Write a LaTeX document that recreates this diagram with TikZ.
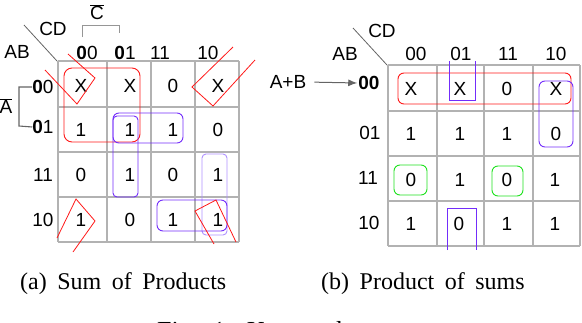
\documentclass[tikz,border=0pt]{standalone}
\usepackage{fontspec}
\setmainfont{Liberation Sans}
\newfontfamily\capfont{Liberation Serif}
\definecolor{kmred}{RGB}{255,25,25}
\definecolor{kmpurple}{RGB}{115,45,250}
\definecolor{kmlilac}{RGB}{175,145,255}
\definecolor{kmgreen}{RGB}{30,225,30}
\definecolor{kmgrid}{RGB}{178,178,178}
\definecolor{kmline}{RGB}{100,100,100}
\definecolor{kmlight}{RGB}{150,150,150}
\usetikzlibrary{arrows.meta,positioning}
\newcommand\kmcapfont[2]{\capfont\fontsize{#1}{30}\selectfont\spaceskip=#2pt\relax}

\begin{document}
\begin{tikzpicture}[x=1pt,y=-1pt,
  kmtext/.style={inner sep=0pt,font=\fontsize{19}{21}\selectfont},
  kmgridline/.style={draw=kmgrid,line width=1.2pt},
  kmgroup/.style={rounded corners=6pt,line width=0.9pt},
  kmmark/.style={draw=kmred,line width=0.8pt},
  kmbracket/.style={draw=kmline,line width=1.1pt},
  kmcap/.style={inner sep=0pt,anchor=base west,font=\kmcapfont{24}{10.5}}
]
  \useasboundingbox (0,0) rectangle (582,322);

  % Left map: grid
  \foreach \x in {58,107,151,195,239} \draw[kmgridline] (\x,61) -- (\x,242);
  \foreach \y in {61,107,152,197,242} \draw[kmgridline] (58,\y) -- (239,\y);
  \draw[draw=kmline,line width=0.8pt] (24,25) -- (57,61);
  \node[kmtext] (lcd) at (53,29) {CD};
  \node[kmtext] (lab) at (17,52) {AB};
  \node[kmtext] (lcbar) at (97,12) {$\overline{\mbox{C}}$};
  \node[kmtext] (labar) at (6,106) {$\overline{\mbox{A}}$};
  % Left map: headers
  \node[kmtext] (lc1) at (87,53) {\textbf{0}0};
  \node[kmtext] (lc2) at (125,53) {\textbf{0}1};
  \node[kmtext] (lc3) at (160,53) {11};
  \node[kmtext] (lc4) at (208,53) {10};
  \node[kmtext] (lr1) at (43,87) {\textbf{0}0};
  \node[kmtext] (lr2) at (43,127) {\textbf{0}1};
  \node[kmtext] (lr3) at (43,175) {11};
  \node[kmtext] (lr4) at (43,220) {10};
  \draw[kmbracket,draw=kmlight,line width=1pt] (82,37) |- (119,25) -- (119,33);
  \draw[kmbracket] (lr1.west) -| (19,126) -- (lr2.west);
  % Left map: cells
  \foreach \v [count=\c] in {X,X,0,X} \node[kmtext] (l1\c) at ({\c==1?81:(\c==2?130:(\c==3?173:218))},86) {\v};
  \foreach \v [count=\c] in {1,1,1,0} \node[kmtext] (l2\c) at ({\c==1?81:(\c==2?130:(\c==3?173:218))},130) {\v};
  \foreach \v [count=\c] in {0,1,0,1} \node[kmtext] (l3\c) at ({\c==1?81:(\c==2?130:(\c==3?173:218))},175) {\v};
  \foreach \v [count=\c] in {1,0,1,1} \node[kmtext] (l4\c) at ({\c==1?81:(\c==2?130:(\c==3?173:218))},220) {\v};
  % Left map: groups
  \draw[kmgroup,draw=kmred,rounded corners=8pt] (64,68) rectangle (140,142);
  \draw[kmgroup,draw=kmpurple] (113,113) rectangle (183,143);
  \draw[kmgroup,draw=kmpurple,rounded corners=4pt] (113,116) rectangle (138,197);
  \draw[kmgroup,draw=kmlilac,rounded corners=4pt] (202,154) rectangle (227,235);
  \draw[kmgroup,draw=kmpurple] (157,200) rectangle (227,231);
  \draw[kmmark] (45,70) -- (77,104) -- (95,78) -- (68,54);
  \draw[kmmark] (233,47) -- (192,87) -- (213,106) -- (255,60);
  \draw[kmmark] (57,238) -- (76,199) -- (95,221) -- (73,252);
  \draw[kmmark] (214,244) -- (195,211) -- (216,200) -- (236,242);

  % Right map: grid
  \foreach \x in {388,437,484,533,580} \draw[kmgridline] (\x,65) -- (\x,246);
  \foreach \y in {65,111,156,201,246} \draw[kmgridline] (388,\y) -- (580,\y);
  \draw[draw=kmline,line width=0.8pt] (353,28) -- (387,65);
  \node[kmtext] (rcd) at (382,31) {CD};
  \node[kmtext] (rab) at (345,54) {AB};
  % Right map: headers
  \node[kmtext] (rc1) at (416,54) {00};
  \node[kmtext] (rc2) at (461,54) {01};
  \node[kmtext] (rc3) at (508,54) {11};
  \node[kmtext] (rc4) at (556,54) {10};
  \node[kmtext] (rr1) at (369,83) {\textbf{00}};
  \node[kmtext] (rr2) at (370,133) {01};
  \node[kmtext] (rr3) at (368,178) {11};
  \node[kmtext] (rr4) at (369,223) {10};
  \node[kmtext] (rsum) at (288,82) {A+B};
  \draw[draw=kmline,line width=1pt,-{Latex[length=9pt,width=7pt]},shorten <=8pt,shorten >=1pt] (rsum.east) -- (rr1.west);
  % Right map: cells
  \foreach \v [count=\c] in {X,X,0,X} \node[kmtext] (r1\c) at ({\c==1?411:(\c==2?460:(\c==3?507:556))},89) {\v};
  \foreach \v [count=\c] in {1,1,1,0} \node[kmtext] (r2\c) at ({\c==1?411:(\c==2?460:(\c==3?507:556))},134) {\v};
  \foreach \v [count=\c] in {0,1,0,1} \node[kmtext] (r3\c) at ({\c==1?411:(\c==2?460:(\c==3?507:555))},180) {\v};
  \foreach \v [count=\c] in {1,0,1,1} \node[kmtext] (r4\c) at ({\c==1?411:(\c==2?459:(\c==3?507:555))},224) {\v};
  % Right map: groups
  \draw[kmgroup,draw=kmred] (398,73) rectangle (571,104);
  \draw[line width=0.9pt,draw=kmpurple] (449,61) -- (449,100) -- (475,100) -- (475,61);
  \draw[kmgroup,draw=kmpurple] (539,81) rectangle (573,147);
  \draw[kmgroup,draw=kmgreen] (394,165) rectangle (427,195);
  \draw[kmgroup,draw=kmgreen] (492,166) rectangle (523,196);
  \draw[line width=0.9pt,draw=kmpurple] (447,250) -- (447,208) -- (476,208) -- (476,250);

  % Captions
  \node[kmcap] (capa) at (20,289) {(a) Sum of Products};
  \node[kmcap] (capb) at (321,289) {(b) Product of sums};
  \node[kmcap,font=\kmcapfont{26}{12}] (capfig) at (157,339) {Fig. 1: Karnaugh maps};
\end{tikzpicture}
\end{document}
